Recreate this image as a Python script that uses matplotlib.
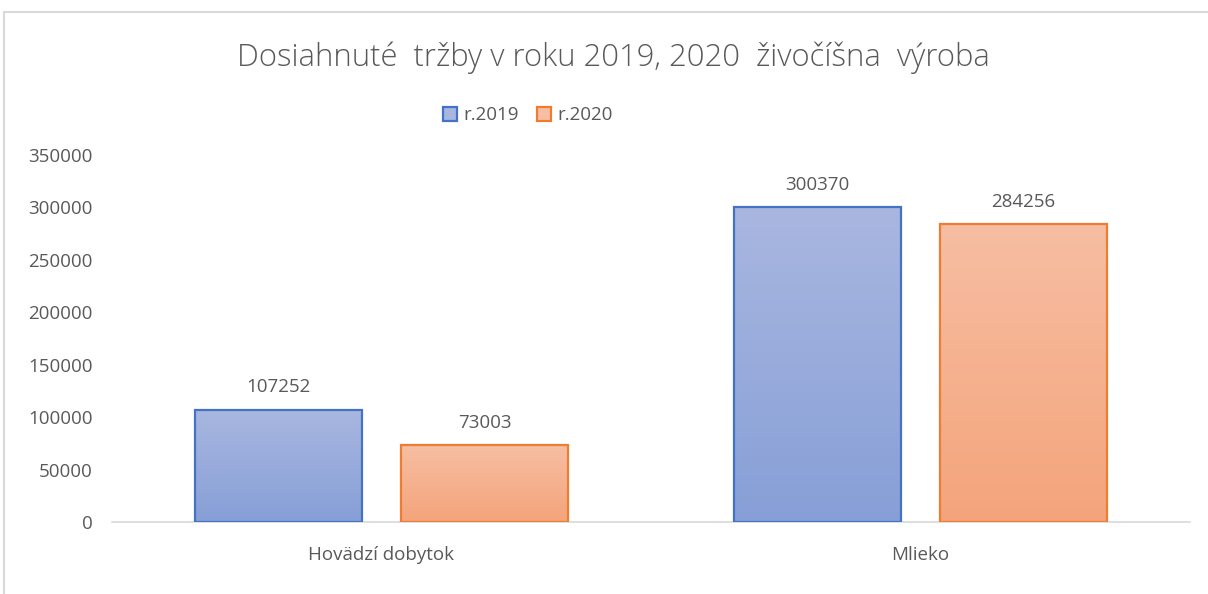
import numpy as np
import matplotlib
matplotlib.use("Agg")
import matplotlib.pyplot as plt
from matplotlib.colors import LinearSegmentedColormap
from matplotlib.lines import Line2D
from matplotlib.patches import Patch

categories = ["Hovädzí dobytok", "Mlieko"]
series_names = ["r.2019", "r.2020"]
values_2019 = [107252, 300370]
values_2020 = [73003, 284256]
y_ticks = [0, 50000, 100000, 150000, 200000, 250000, 300000, 350000]

TXT = "#595959"
plt.rcParams["font.family"] = ["Open Sans", "DejaVu Sans"]

# (edge colour, gradient top, gradient bottom)
_STYLES = [("#4472C4", "#A9B7E0", "#879FD7"),
           ("#ED7D31", "#F7BEA3", "#F4A47B")]

fig = plt.figure(figsize=(12.08, 5.94), dpi=100)
ax = fig.add_axes([0.0927, 0.1212, 0.8923, 0.6178])

x = np.arange(len(categories))
offsets = [-0.191, 0.191]
width = 0.31

for vals, off, (edge, top, bot) in zip([values_2019, values_2020], offsets, _STYLES):
    bars = ax.bar(x + off, vals, width, facecolor="none", edgecolor=edge, lw=1.6, zorder=3)
    cmap = LinearSegmentedColormap.from_list("g", [bot, top])
    for b, v in zip(bars, vals):
        x0, w, h = b.get_x(), b.get_width(), b.get_height()
        im = ax.imshow(np.linspace(0, 1, 256).reshape(-1, 1), cmap=cmap, origin="lower",
                       extent=[x0, x0 + w, 0, h], aspect="auto", zorder=2)
        im.set_clip_path(b)
        ax.text(x0 + w / 2, v + 12500, f"{v}", ha="center", va="bottom",
                fontsize=13.5, color=TXT)

ax.set_xlim(-0.5, 1.5)
ax.set_ylim(0, 350000)
ax.set_yticks(y_ticks)
ax.set_yticklabels([str(t) for t in y_ticks])
ax.set_xticks(x)
ax.set_xticklabels(categories)
ax.tick_params(axis="both", length=0, colors=TXT, labelsize=13.5)
ax.tick_params(axis="y", pad=14)
ax.tick_params(axis="x", pad=17)
for s in ["top", "right", "left"]:
    ax.spines[s].set_visible(False)
ax.spines["bottom"].set_color("#D9D9D9")
ax.spines["bottom"].set_linewidth(1.2)

fig.text(0.508, 0.902, "Dosiahnuté  tržby v roku 2019, 2020  živočíšna  výroba",
         ha="center", va="center", fontsize=22.3, color=TXT, fontweight="light")

handles = [Patch(facecolor=_STYLES[i][1], edgecolor=_STYLES[i][0], lw=1.6, label=series_names[i])
           for i in range(2)]
fig.legend(handles=handles, loc="center", bbox_to_anchor=(0.437, 0.806), ncol=2,
           frameon=False, fontsize=13.5, labelcolor=TXT, handlelength=0.75, handleheight=0.75,
           handletextpad=0.3, columnspacing=1.0)

# outer chart border (only top and left visible in the crop)
fig.add_artist(Line2D([0.003, 1.0], [0.98, 0.98], color="#D9D9D9", lw=1.5))
fig.add_artist(Line2D([0.0035, 0.0035], [0.0, 0.98], color="#D9D9D9", lw=1.5))

fig.savefig("out.png", dpi=100)
